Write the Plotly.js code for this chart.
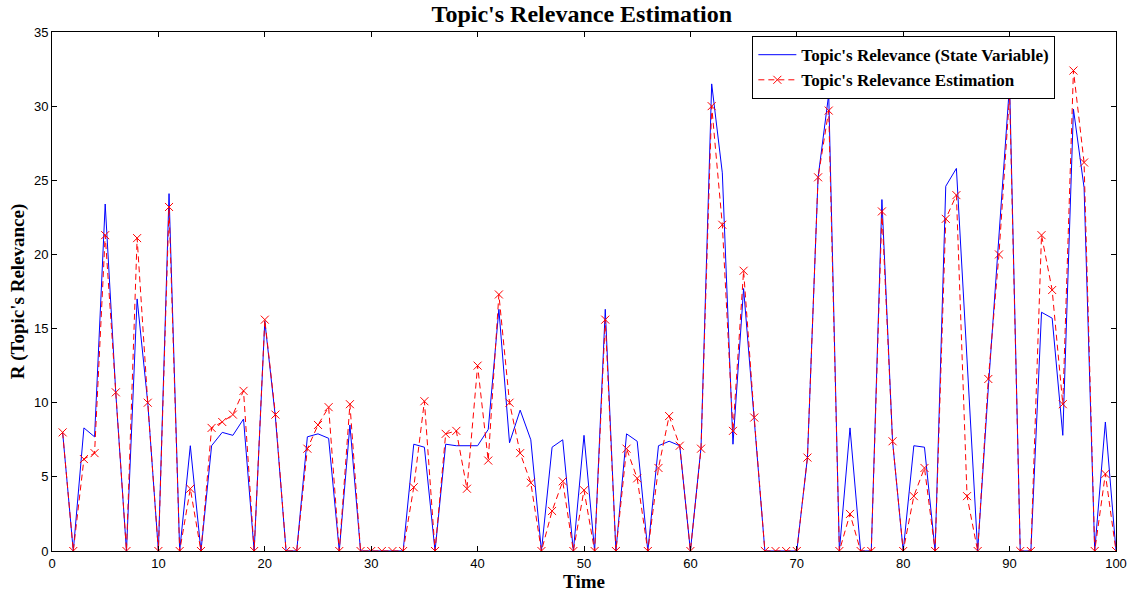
<!DOCTYPE html>
<html><head><meta charset="utf-8">
<script src="https://cdn.plot.ly/plotly-3.0.1.min.js"></script>
<style>html,body{margin:0;padding:0;background:#fff}#chart{width:1132px;height:597px}</style>
</head><body><div id="chart"></div>
<script>
const time = Array.from({length:100},(_,i)=>i+1);
const stateVariable = [
 8.0,0,8.3,7.7,23.4,10.6,0,17.0,10.0,0,
 24.1,0,7.1,0,7.1,8.0,7.8,8.9,0,15.5,
 9.0,0,0,7.7,7.9,7.6,0,8.5,0,0,
 0,0,0,7.2,7.0,0,7.2,7.1,7.1,7.1,
 8.2,16.3,7.3,9.5,7.5,0,7.0,7.5,0,7.8,
 0,16.3,0,7.9,7.4,0,7.1,7.4,7.1,0,
 7.0,31.5,25.5,7.2,17.7,9.0,0,0,0,0,
 6.3,25.2,30.8,0,8.3,0,0,23.7,7.4,0,
 7.1,7.0,0,24.6,25.8,12.5,0,11.0,21.5,31.5,
 0,0,16.1,15.7,7.8,29.8,24.5,0,8.7,0
];
const estimation = [
 8.0,0,6.2,6.6,21.3,10.7,0,21.1,10.0,0,
 23.2,0,4.2,0,8.3,8.7,9.2,10.8,0,15.6,
 9.2,0,0,6.9,8.5,9.7,0,9.9,0,0,
 0,0,0,4.3,10.1,0,7.9,8.1,4.2,12.5,
 6.1,17.3,10.0,6.6,4.6,0,2.7,4.7,0,4.1,
 0,15.6,0,6.9,4.9,0,5.6,9.1,7.1,0,
 6.9,30.0,22.0,8.1,18.9,9.0,0,0,0,0,
 6.3,25.2,29.7,0,2.5,0,0,22.9,7.4,0,
 3.7,5.6,0,22.4,24.0,3.7,0,11.6,20.0,30.8,
 0,0,21.3,17.6,9.9,32.4,26.2,0,5.2,0
];
const xTicks = [0,10,20,30,40,50,60,70,80,90,100];
const yTicks = [0,5,10,15,20,25,30,35];

const traces = [
 {x:time, y:stateVariable, type:'scatter', mode:'lines', name:"Topic's Relevance (State Variable)",
  line:{color:'#0000ff', width:1}},
 {x:time, y:estimation, type:'scatter', mode:'lines+markers', name:"Topic's Relevance Estimation",
  line:{color:'#ff0000', width:1, dash:'6px,4px'},
  marker:{symbol:'x-thin-open', size:8, color:'#ff0000', line:{color:'#ff0000', width:1}}}
];
const tickFont = {family:'Liberation Sans Narrow, Liberation Sans, Arial', size:13, color:'#000'};
const serif = 'Liberation Serif, Times New Roman';
const layout = {
 width:1132, height:597,
 margin:{l:52, r:16, t:32, b:46},
 paper_bgcolor:'#fff', plot_bgcolor:'#fff',
 showlegend:true,
 title:{text:"Topic's Relevance Estimation", x:0.514, xanchor:'center', y:0.978, yanchor:'middle',
  font:{family:serif, size:24, color:'#000', weight:'bold'}},
 xaxis:{range:[0,100], tickvals:xTicks, ticktext:xTicks.map(String), ticks:'inside', ticklen:5, tickcolor:'#000',
  showgrid:false, zeroline:false, showline:true, linecolor:'#000', linewidth:1, mirror:'ticks',
  tickfont:tickFont,
  title:{text:'Time', standoff:2, font:{family:serif, size:19, color:'#000', weight:'bold'}}},
 yaxis:{range:[0,35], tickvals:yTicks, ticktext:yTicks.map(String), ticks:'inside', ticklen:5, tickcolor:'#000',
  showgrid:false, zeroline:false, showline:true, linecolor:'#000', linewidth:1, mirror:'ticks',
  tickfont:tickFont,
  title:{text:"R (Topic's Relevance)", standoff:4, font:{family:serif, size:19, color:'#000', weight:'bold'}}},
 legend:{x:0.943, xanchor:'right', y:0.992, yanchor:'top', bgcolor:'#fff', bordercolor:'#000', borderwidth:1,
  font:{family:serif, size:17, color:'#000', weight:'bold'},
  tracegroupgap:0, itemwidth:38}
};
Plotly.newPlot('chart', traces, layout, {displayModeBar:false, staticPlot:true});
</script></body></html>
